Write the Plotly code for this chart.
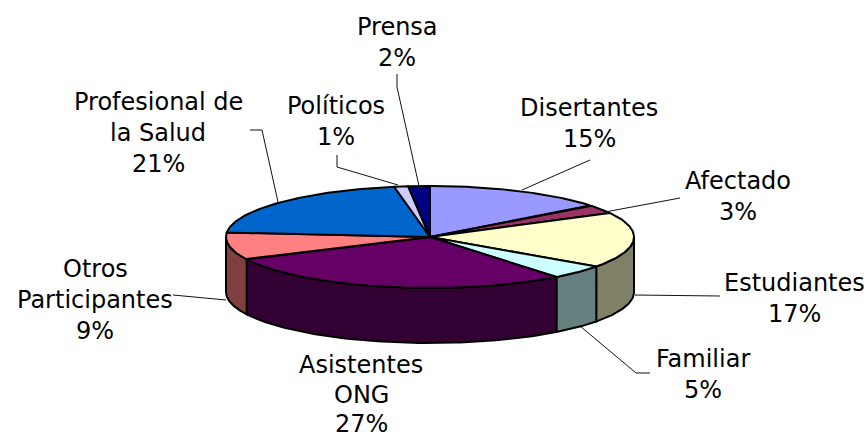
import numpy as np
import plotly.graph_objects as go

# Data: clockwise from 12 o'clock
categories = ["Disertantes", "Afectado", "Estudiantes", "Familiar", "Asistentes ONG",
              "Otros Participantes", "Profesional de la Salud", "Políticos", "Prensa"]
drawn_shares = [14.3, 2.8, 17.6, 4.5, 28.3, 8.6, 20.7, 1.1, 1.7]
percent_labels = ["15%", "3%", "17%", "5%", "27%", "9%", "21%", "1%", "2%"]
label_lines = [["Disertantes"], ["Afectado"], ["Estudiantes"], ["Familiar"], ["Asistentes", "ONG"],
               ["Otros", "Participantes"], ["Profesional de", "la Salud"], ["Políticos"], ["Prensa"]]
top_colors = ["#9999FF", "#993366", "#FFFFCC", "#CCFFFF", "#660066", "#FF8080", "#0066CC", "#CCCCFF", "#000080"]
side_colors = ["#4C4C80", "#4C1933", "#808066", "#668080", "#330033", "#804040", "#003366", "#666680", "#000040"]

# Layout (pixels)
W, H = 868, 439
CX, CY, RX, RY, DEPTH = 430, 237, 204, 51, 55
LABEL_CENTERS = [(589, 108), (738, 181), (794, 283), (703, 359), (361, 365),
                 (95, 269), (158, 102), (336, 106), (397, 27)]
LINE_STEPS = [31, 31, 31, 31, 29.5, 31, 31, 31, 31]
LEADERS = [
    [(522, 190), (590, 160)],
    [(605, 212), (680, 198)],
    [(635, 295), (720, 296)],
    [(580, 326), (636, 373), (650, 373)],
    None,
    [(173, 295), (226, 300)],
    [(250, 130), (262, 130), (278, 202)],
    [(337, 155), (337, 167), (398, 185)],
    [(397, 74), (397, 87), (419, 186)],
]


def rim(theta, dz=0.0):
    return CX + RX * np.sin(theta), CY - RY * np.cos(theta) + dz


fig = go.Figure()
edges = np.cumsum([0] + drawn_shares) / sum(drawn_shares) * 2 * np.pi


def poly(x, y, color):
    fig.add_trace(go.Scatter(x=list(x), y=list(y), mode="lines", fill="toself", fillcolor=color,
                             line=dict(color="black", width=2), hoverinfo="skip", showlegend=False))


# Front wall: only the part facing the viewer (pi/2 .. 3pi/2)
for a, b, col in zip(edges[:-1], edges[1:], side_colors):
    lo, hi = max(a, np.pi / 2), min(b, 3 * np.pi / 2)
    if hi > lo:
        t = np.linspace(lo, hi, 80)
        x1, y1 = rim(t)
        x2, y2 = rim(t[::-1], DEPTH)
        poly(np.r_[x1, x2, x1[0]], np.r_[y1, y2, y1[0]], col)

# Top face
for a, b, col in zip(edges[:-1], edges[1:], top_colors):
    t = np.linspace(a, b, 80)
    x1, y1 = rim(t)
    poly(np.r_[CX, x1, CX], np.r_[CY, y1, CY], col)

# Leader lines
for pts in LEADERS:
    if pts:
        fig.add_trace(go.Scatter(x=[p[0] for p in pts], y=[p[1] for p in pts], mode="lines",
                                 line=dict(color="#111111", width=1), hoverinfo="skip", showlegend=False))

# Labels: one annotation per line to reproduce the wide line pitch
for lines, pct, (lx, ly), step in zip(label_lines, percent_labels, LABEL_CENTERS, LINE_STEPS):
    for i, s in enumerate(lines + [pct]):
        fig.add_annotation(x=lx, y=ly + i * step, text=s, showarrow=False, xanchor="center",
                           yanchor="middle", font=dict(family="DejaVu Sans", size=24, color="black"))

fig.update_xaxes(range=[0, W], visible=False, fixedrange=True)
fig.update_yaxes(range=[H, 0], visible=False, fixedrange=True)
fig.update_layout(width=W, height=H, margin=dict(l=0, r=0, t=0, b=0), paper_bgcolor="white",
                  plot_bgcolor="white", showlegend=False)
fig.write_html("out.html", config={"displayModeBar": False},
               post_script="document.body.style.margin='0';document.body.style.overflow='hidden';")
